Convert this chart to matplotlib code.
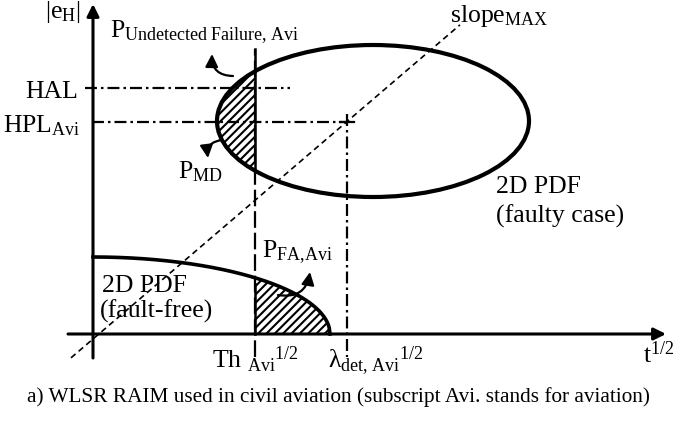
import numpy as np
import matplotlib
matplotlib.use("Agg")
import matplotlib.pyplot as plt
from matplotlib.patches import Ellipse, Polygon, FancyArrowPatch

# Schematic values (origin = crossing of the two axes, units ~ pixels)
TH = 162            # Th_Avi^1/2 on the t^1/2 axis
LAMBDA_DET = 254    # lambda_det,Avi^1/2
HAL = 246           # horizontal alert limit
HPL = 212           # horizontal protection level
FAULTY_CENTER = (280, 213)
FAULTY_HALF = (156, 76)
FREE_HALF = (237, 77)        # quarter ellipse of fault-free PDF
SLOPE_MAX = 0.856
SLOPE_OFFSET = -5

plt.rcParams['font.family'] = ['Liberation Serif', 'DejaVu Serif']
plt.rcParams['mathtext.fontset'] = 'custom'
plt.rcParams['mathtext.rm'] = 'Liberation Serif'
plt.rcParams['mathtext.it'] = 'Liberation Serif:italic'
plt.rcParams['lines.scale_dashes'] = False
plt.rcParams['hatch.linewidth'] = 1.5

DASHDOT = (0, (8.6, 2.9, 1.8, 2.9))
FS = 18.5

fig = plt.figure(figsize=(6.74, 4.22), dpi=100)
ax = fig.add_axes([0, 0, 1, 1])
ax.set_xlim(-93, 581)
ax.set_ylim(-88, 334)
ax.axis('off')

# axes with arrows
ax.annotate('', xy=(0, 330), xytext=(0, -24),
            arrowprops=dict(arrowstyle='-|>', lw=2.2, color='black', mutation_scale=18, shrinkA=0, shrinkB=0))
ax.annotate('', xy=(573, 0), xytext=(-25, 0),
            arrowprops=dict(arrowstyle='-|>', lw=2.2, color='black', mutation_scale=18, shrinkA=0, shrinkB=0))

# slope max line
xs = np.array([-22, 367])
ax.plot(xs, SLOPE_MAX * xs + SLOPE_OFFSET, color='black', lw=1.2, linestyle=(0, (4.3, 2.9)))

# faulty ellipse and hatched part left of TH
cx, cy = FAULTY_CENTER
a, b = FAULTY_HALF
t0 = np.arccos((TH - cx) / a)
t = np.linspace(t0, 2 * np.pi - t0, 200)
poly = np.column_stack([cx + a * np.cos(t), cy + b * np.sin(t)])
ax.add_patch(Polygon(poly, closed=True, facecolor='none', edgecolor='black', lw=0, hatch='////'))
ax.add_patch(Ellipse(FAULTY_CENTER, 2 * a, 2 * b, fill=False, lw=3.0, color='black'))

# fault-free quarter ellipse and hatched tail right of TH
fa, fb = FREE_HALF
xf = np.linspace(0, fa, 300)
yf = fb * np.sqrt(np.clip(1 - (xf / fa) ** 2, 0, None))
ax.plot(xf, yf, color='black', lw=2.6)
mask = xf >= TH
tail = np.column_stack([np.r_[TH, xf[mask], fa], np.r_[0, yf[mask], 0]])
ax.add_patch(Polygon(tail, closed=True, facecolor='none', edgecolor='black', lw=0, hatch='////'))

# TH vertical line
y_free_th = fb * np.sqrt(1 - (TH / fa) ** 2)
ax.plot([TH, TH], [-23, 285], color='black', lw=1.6, linestyle=(0, (12, 3.5)))
ax.plot([TH, TH], [cy - b * np.sin(t0), 285], color='black', lw=1.8)
ax.plot([TH, TH], [0, y_free_th - 6], color='black', lw=1.8)

# HAL / HPL / lambda lines
ax.plot([-8, 197], [HAL, HAL], color='black', lw=1.6, linestyle=DASHDOT)
ax.plot([-1, LAMBDA_DET], [HPL, HPL], color='black', lw=1.6, linestyle=DASHDOT)
ax.plot([LAMBDA_DET, LAMBDA_DET], [HPL + 8, -23], color='black', lw=1.6, linestyle=DASHDOT)
ax.plot([LAMBDA_DET - 7, LAMBDA_DET + 7], [HPL, HPL], color='black', lw=1.6)

# curved arrows
arrow_kw = dict(arrowstyle='-|>', lw=1.6, color='black', mutation_scale=19, shrinkA=0, shrinkB=0)
ax.add_patch(FancyArrowPatch((140, 258), (119, 280), connectionstyle='arc3,rad=-0.5', **arrow_kw))
ax.add_patch(FancyArrowPatch((129, 194), (115, 176), connectionstyle='arc3,rad=0.5', **arrow_kw))
ax.add_patch(FancyArrowPatch((185, 39), (217, 62), connectionstyle='arc3,rad=0.5', **arrow_kw))

# labels
ax.text(-48, 316, r'$|\mathrm{e}_{\mathrm{H}}|$', fontsize=FS, va='baseline')
ax.text(17, 297, r'$\mathrm{P}_{\mathrm{Undetected\ Failure{,}\ Avi}}$', fontsize=FS, va='baseline')
ax.text(-15, 236, 'HAL', fontsize=FS, ha='right', va='baseline')
ax.text(-13, 202, r'$\mathrm{HPL}_{\mathrm{Avi}}$', fontsize=FS, ha='right', va='baseline')
ax.text(85, 156, r'$\mathrm{P}_{\mathrm{MD}}$', fontsize=FS, va='baseline')
ax.text(357, 312, r'$\mathrm{slope}_{\mathrm{MAX}}$', fontsize=FS, va='baseline')
ax.text(403, 141, '2D PDF', fontsize=FS, va='baseline')
ax.text(403, 111, '(faulty case)', fontsize=FS, va='baseline')
ax.text(169, 77, r'$\mathrm{P}_{\mathrm{FA{,}Avi}}$', fontsize=FS, va='baseline')
ax.text(9, 42, '2D PDF', fontsize=FS, va='baseline')
ax.text(7, 16, '(fault-free)', fontsize=FS, va='baseline')
ax.text(119, -34, r'$\mathrm{Th\ }_{\mathrm{Avi}}{}^{\mathrm{1/2}}$', fontsize=FS, va='baseline')
ax.text(235, -34, r'$\mathrm{λ}_{\mathrm{det{,}\ Avi}}{}^{\mathrm{1/2}}$', fontsize=FS, va='baseline')
ax.text(550, -29, r'$\mathrm{t}^{\mathrm{1/2}}$', fontsize=FS, va='baseline')
ax.text(-66, -68, 'a) WLSR RAIM used in civil aviation (subscript Avi. stands for aviation)',
        fontsize=15.3, va='baseline')

fig.savefig('out.png', dpi=100)
